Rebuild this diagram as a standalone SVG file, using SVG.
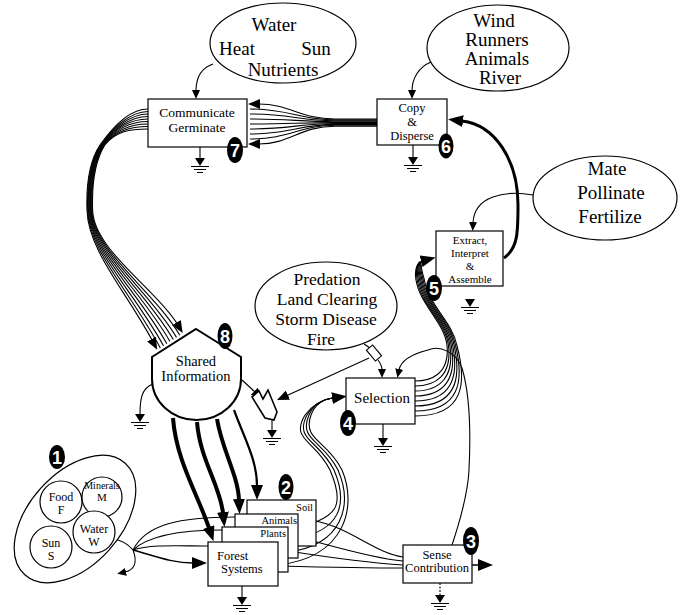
<svg xmlns="http://www.w3.org/2000/svg" xmlns:xlink="http://www.w3.org/1999/xlink" width="681" height="615" viewBox="0 0 681 615">
<style>
.bg{fill:#fff}
.box{fill:#fff;stroke:#000;stroke-width:1.2}
.ell{fill:#fff;stroke:#000;stroke-width:1.2}
.ln{fill:none;stroke:#000;stroke-width:1.1}
.thk{fill:none;stroke:#000;stroke-width:4}
.med{fill:none;stroke:#000;stroke-width:2.2}
.t{font-family:"Liberation Serif","Times New Roman",serif;fill:#000;text-anchor:middle}
.big{font-size:19px}
.bdg{fill:#000}
.num{font-family:"Liberation Sans",Arial,sans-serif;font-weight:bold;font-size:18px;fill:#fff;text-anchor:middle}
</style>
<defs>
<marker id="a" viewBox="0 0 12 10" markerWidth="12" markerHeight="10" refX="1" refY="5" orient="auto" markerUnits="userSpaceOnUse"><path d="M0,0L12,5L0,10z"/></marker>
<marker id="as" viewBox="0 0 9 8" markerWidth="9" markerHeight="8" refX="1" refY="4" orient="auto" markerUnits="userSpaceOnUse"><path d="M0,0L9,4L0,8z"/></marker>
<marker id="al" viewBox="0 0 15 12" markerWidth="15" markerHeight="12" refX="1" refY="6" orient="auto" markerUnits="userSpaceOnUse"><path d="M0,0L15,6L0,12z"/></marker>
<g id="gnd"><path d="M-5,-8L5,-8L0,0z"/><path d="M-9,0.5H9M-6,3.5H6M-3,6.5H3" stroke="#000" stroke-width="1.2" fill="none"/></g>
</defs>
<rect class="bg" x="0" y="0" width="681" height="615"/>

<g id="connectors">
<!-- Copy & Disperse -> Communicate bundle -->
<path class="ln" d="M377,119 L335,119 C300,119 290,104 259,104" marker-end="url(#a)"/>
<path class="ln" d="M377,119.9 L335,119.9 C300,119.9 290,109 250,109"/>
<path class="ln" d="M377,120.8 L335,120.8 C300,120.8 290,114 250,114"/>
<path class="ln" d="M377,121.7 L335,121.7 C300,121.7 290,119 250,119"/>
<path class="ln" d="M377,122.6 L335,122.6 C300,122.6 290,124 250,124"/>
<path class="ln" d="M377,123.5 L335,123.5 C300,123.5 290,129 250,129"/>
<path class="ln" d="M377,124.4 L335,124.4 C300,124.4 290,134 250,134"/>
<path class="ln" d="M377,125.3 L335,125.3 C300,125.3 290,139 250,139"/>
<path class="ln" d="M377,126.2 L335,126.2 C300,126.2 290,144 259,144" marker-end="url(#a)"/>

<!-- Communicate -> Shared Information bundle -->
<path class="ln" d="M148,109 C130,109 112,128 100,145 C90,160 86,180 87,210 C88,250 125,290 152,340" marker-end="url(#a)"/>
<path class="ln" d="M148,111.5 C130,111.5 112.5,128.4 100.6,145 C90.7,160 86.7,180 87.7,210 C88.7,250 129,290 160.3,347.9"/>
<path class="ln" d="M148,114 C130,114 113,128.8 101.2,145 C91.4,160 87.4,180 88.4,210 C89.4,250 133,290 163.5,345.8"/>
<path class="ln" d="M148,116.5 C130,116.5 113.5,129.2 101.8,145 C92.1,160 88.1,180 89.1,210 C90.1,250 137,290 166.8,343.7"/>
<path class="ln" d="M148,119 C130,119 114,129.6 102.4,145 C92.8,160 88.8,180 89.8,210 C90.8,250 141,290 170,341.6"/>
<path class="ln" d="M148,121.5 C130,121.5 114.5,130 103,145 C93.5,160 89.5,180 90.5,210 C91.5,250 145,290 173.3,339.5"/>
<path class="ln" d="M148,124 C130,124 115,130.4 103.6,145 C94.2,160 90.2,180 91.2,210 C92.2,250 149,290 176.5,337.4"/>
<path class="ln" d="M148,126.5 C130,126.5 115.5,130.8 104.2,145 C94.9,160 90.9,180 91.9,210 C92.9,250 153,290 179.8,335.3"/>
<path class="ln" d="M148,129 C130,129 116,131.2 104.8,145 C95.6,160 91.6,180 92.6,210 C93.6,250 157,290 177,323.5" marker-end="url(#a)"/>

<!-- Selection -> Extract bundle -->
<path class="ln" d="M415,381 C430,381 450,375 447,345 C444,322 420,305 416,280 C414,268 418,262 422,261"/>
<path class="ln" d="M415,386 C435,386 452.4,376 448.4,345 C445.2,322 421.2,305 417.2,280 C415,268 418,262 422,261"/>
<path class="ln" d="M415,391 C440,391 454.8,377 449.8,345 C446.4,322 422.4,305 418.4,280 C416,268 418,262 422,261"/>
<path class="ln" d="M415,396 C445,396 457.2,378 451.2,345 C447.6,322 423.6,305 419.6,280 C417,268 418,262 422,261" marker-end="url(#al)"/>
<path class="ln" d="M415,401 C450,401 459.6,379 452.6,345 C448.8,322 424.8,305 420.8,280 C418,268 419,262 422,261"/>
<path class="ln" d="M415,406 C455,406 462,380 454,345 C450,322 426,305 422,280 C419,268 419,262 422,261"/>
<path class="ln" d="M415,411 C460,411 464.4,381 455.4,345 C451.2,322 427.2,305 423.2,280 C420,268 420,262 422,261"/>
<path class="ln" d="M415,416 C465,416 466.8,382 456.8,345 C452.4,322 428.4,305 424.4,280 C421,268 420,262 422,261"/>

<!-- Extract -> Copy thick arrow -->
<path class="ln" style="stroke-width:3" d="M504,258 C518,248 518,232 518,205 C518,160 495,125 462,121" marker-end="url(#al)"/>

<!-- Environment ellipse inputs -->
<path class="ln" d="M213,64 C201,68 196,78 196,91" marker-end="url(#as)"/>
<path class="ln" d="M431,62 C419,67 412,78 412,91" marker-end="url(#as)"/>
<path class="ln" d="M533,195 C505,190 474,196 473,223" marker-end="url(#as)"/>

<!-- Predation valve connections -->
<path class="ln" d="M364,344 L370,348"/>
<path class="ln" d="M378,360 C381,364 382,366 382,370" marker-end="url(#as)"/>
<path class="ln" d="M369,358 L287,395.5" marker-end="url(#a)"/>
<path class="ln" d="M242,380 L255,392" marker-end="url(#a)"/>

<!-- Sense -> Selection feedback -->
<path class="ln" d="M452,545 C462,515 468,490 469,470 C471,430 470,395 462,368 C456,352 440,345 428,350 C412,354 401,360 399,370" marker-end="url(#as)"/>

<!-- Shared Information -> stacked systems -->
<path class="thk" d="M173,418 C176,460 198,495 209,528" marker-end="url(#al)"/>
<path class="thk" d="M197,422 C200,460 220,485 223,513" marker-end="url(#al)"/>
<path class="thk" d="M217,419 C222,450 238,475 239,500" marker-end="url(#al)"/>
<path class="med" d="M234,410 C245,440 257,460 257,486" marker-end="url(#al)"/>

<!-- Environment (1) -> systems -->
<path class="ln" d="M113,539 C121,540 128,544 133,550"/>
<path class="ln" d="M133,550 C138,563 134,570 125,572" marker-end="url(#as)"/>
<path class="med" style="stroke-width:1.5" d="M133,550 C155,556 172,563 193,563" marker-end="url(#al)"/>
<path class="ln" d="M133,550 C150,544 180,546 208,546"/>
<path class="ln" d="M133,550 C148,536 180,530 222,530"/>
<path class="ln" d="M133,550 C146,524 180,517 235,517"/>

<!-- systems -> Sense Contribution -->
<path class="ln" d="M316,521 C350,528 375,553 403,557"/>
<path class="ln" d="M298,537 C330,545 370,558 403,561"/>
<path class="ln" d="M288,551 C320,556 370,563 403,565"/>
<path class="ln" d="M278,566 C320,567 370,568 403,568"/>

<!-- systems -> Selection wavy bundle -->
<path class="ln" d="M316,522 C335,514 345,505 330,470 C315,440 290,440 305,415 C315,402 325,399 333,398"/>
<path class="ln" d="M298,538 C339,530 349,505 334,470 C319,440 294,440 307,415 C315,402 325,399 333,398"/>
<path class="ln" d="M288,552 C343,545 353,505 338,470 C323,440 298,440 309,415 C315,402 325,399 333,398"/>
<path class="ln" d="M278,565 C347,557 357,505 342,470 C327,440 302,440 311,415 C316,402 325,399 333,398" marker-end="url(#al)"/>

<!-- Sense output -->
<path class="ln" style="stroke-width:1.5" d="M472,565 L479,565" marker-end="url(#al)"/>
</g>

<g id="grounds">
<path class="ln" d="M200,147 V158"/><use xlink:href="#gnd" href="#gnd" x="200" y="166"/>
<path class="ln" d="M413,145 V157"/><use xlink:href="#gnd" href="#gnd" x="413" y="165"/>
<use xlink:href="#gnd" href="#gnd" x="470" y="307"/>
<path class="ln" d="M383,424 V438"/><use xlink:href="#gnd" href="#gnd" x="383" y="446"/>
<path class="ln" d="M153,384 C142,388 140,398 140,414"/><use xlink:href="#gnd" href="#gnd" x="140" y="422"/>
<path class="ln" d="M272,420 V430"/><use xlink:href="#gnd" href="#gnd" x="272" y="438"/>
<path class="ln" d="M242,586 V597"/><use xlink:href="#gnd" href="#gnd" x="242" y="605"/>
<path class="ln" style="stroke-dasharray:2 1.5" d="M440,583 V595"/><use xlink:href="#gnd" href="#gnd" x="440" y="603"/>
</g>

<g id="env-germinate">
<ellipse class="ell" cx="283" cy="43" rx="73" ry="40"/>
<text class="t big" x="274" y="31">Water</text>
<text class="t big" x="237" y="55">Heat</text>
<text class="t big" x="316" y="55">Sun</text>
<text class="t big" x="283" y="76">Nutrients</text>
</g>

<g id="env-disperse">
<ellipse class="ell" cx="498" cy="48" rx="71" ry="43"/>
<text class="t big" x="494" y="27">Wind</text>
<text class="t big" x="497" y="46">Runners</text>
<text class="t big" x="497" y="65">Animals</text>
<text class="t big" x="500" y="84">River</text>
</g>

<g id="env-mate">
<ellipse class="ell" cx="605" cy="198" rx="72" ry="42"/>
<text class="t big" x="607" y="175">Mate</text>
<text class="t big" x="611" y="199">Pollinate</text>
<text class="t big" x="610" y="223">Fertilize</text>
</g>

<g id="env-predation">
<ellipse class="ell" cx="326" cy="306" rx="71" ry="44"/>
<text class="t" style="font-size:17.5px" x="327" y="284.5">Predation</text>
<text class="t" style="font-size:17.5px" x="327" y="304.5">Land Clearing</text>
<text class="t" style="font-size:17.5px" x="326" y="324.5">Storm Disease</text>
<text class="t" style="font-size:17.5px" x="321" y="345">Fire</text>
<rect x="-4" y="-7" width="8" height="14" transform="translate(374,353) rotate(-40)" fill="#fff" stroke="#000" stroke-width="1.1"/>
</g>

<g id="node-communicate">
<rect class="box" x="148" y="99" width="99" height="48"/>
<text class="t" style="font-size:13.5px" x="197" y="117">Communicate</text>
<text class="t" style="font-size:13.5px" x="197" y="132">Germinate</text>
<ellipse class="bdg" cx="235" cy="150" rx="8" ry="13"/><text class="num" x="235" y="157">7</text>
</g>

<g id="node-copy">
<rect class="box" x="377" y="99" width="70" height="46"/>
<text class="t" style="font-size:12.5px" x="412" y="112">Copy</text>
<text class="t" style="font-size:12.5px" x="412" y="126">&amp;</text>
<text class="t" style="font-size:12.5px" x="412" y="140">Disperse</text>
<ellipse class="bdg" cx="446" cy="146" rx="7.5" ry="12.5"/><text class="num" x="446" y="152.5">6</text>
</g>

<g id="node-extract">
<rect class="box" x="436" y="231" width="67" height="55"/>
<text class="t" style="font-size:11px" x="470" y="243.5">Extract,</text>
<text class="t" style="font-size:11px" x="470" y="256.5">Interpret</text>
<text class="t" style="font-size:11px" x="470" y="269.5">&amp;</text>
<text class="t" style="font-size:11px" x="470" y="282.5">Assemble</text>
<ellipse class="bdg" cx="434" cy="288" rx="8" ry="13"/><text class="num" x="434" y="294.5">5</text>
</g>

<g id="node-selection">
<rect class="box" x="346" y="378" width="69" height="46"/>
<text class="t" style="font-size:15px" x="382" y="403">Selection</text>
<ellipse class="bdg" cx="348" cy="423" rx="8" ry="13"/><text class="num" x="348" y="429.5">4</text>
</g>

<g id="node-shared">
<path d="M196,329 L241,357 L241,379 A44.5,41 0 0 1 152,379 L152,357 Z" fill="#fff" stroke="#000" stroke-width="2"/>
<text class="t" style="font-size:14.5px" x="196" y="366">Shared</text>
<text class="t" style="font-size:14.5px" x="196" y="381">Information</text>
<ellipse class="bdg" cx="225" cy="336" rx="7.5" ry="13"/><text class="num" x="225" y="342.5">8</text>
</g>

<g id="node-tag">
<polygon points="252,397 259,391 263,399 268,390 277,412 274,420 265,418" fill="#fff" stroke="#000" stroke-width="1.6"/>
</g>

<g id="node-environment">
<ellipse class="ell" cx="75" cy="519" rx="75" ry="46" transform="rotate(-48 75 519)"/>
<circle class="ell" cx="61" cy="502" r="21"/>
<text class="t" style="font-size:12px" x="61" y="501">Food</text>
<text class="t" style="font-size:12px" x="61" y="514">F</text>
<circle class="ell" cx="102" cy="497" r="20"/>
<text class="t" style="font-size:10px" x="102" y="489">Minerals</text>
<text class="t" style="font-size:11px" x="102" y="501">M</text>
<circle class="ell" cx="94" cy="532" r="21"/>
<text class="t" style="font-size:12px" x="94" y="533">Water</text>
<text class="t" style="font-size:12px" x="94" y="546">W</text>
<circle class="ell" cx="51" cy="547" r="21"/>
<text class="t" style="font-size:12px" x="51" y="547">Sun</text>
<text class="t" style="font-size:12px" x="51" y="560">S</text>
<ellipse class="bdg" cx="57" cy="457" rx="8" ry="12"/><text class="num" x="57" y="463.5">1</text>
</g>

<g id="node-soil">
<rect class="box" x="247" y="500" width="69" height="46"/>
<text class="t" style="font-size:10.5px;text-anchor:end" x="313" y="511">Soil</text>
</g>
<g id="node-animals">
<rect class="box" x="235" y="514" width="63" height="44"/>
<text class="t" style="font-size:10.5px;text-anchor:end" x="297" y="524">Animals</text>
</g>
<g id="node-plants">
<rect class="box" x="222" y="527" width="66" height="45"/>
<text class="t" style="font-size:10.5px;text-anchor:end" x="286" y="537">Plants</text>
</g>
<g id="node-forest">
<rect class="box" x="208" y="542" width="70" height="44"/>
<text class="t" style="font-size:12.5px;text-anchor:start" x="217" y="560">Forest</text>
<text class="t" style="font-size:12.5px;text-anchor:start" x="221" y="573">Systems</text>
<ellipse class="bdg" cx="286" cy="487" rx="7.5" ry="13"/><text class="num" x="286" y="493.5">2</text>
</g>

<g id="node-sense">
<rect class="box" x="403" y="545" width="69" height="38"/>
<text class="t" style="font-size:12.5px" x="437" y="559">Sense</text>
<text class="t" style="font-size:12.5px" x="437" y="572">Contribution</text>
<ellipse class="bdg" cx="471" cy="541" rx="8" ry="14"/><text class="num" x="471" y="547.5">3</text>
</g>
</svg>
